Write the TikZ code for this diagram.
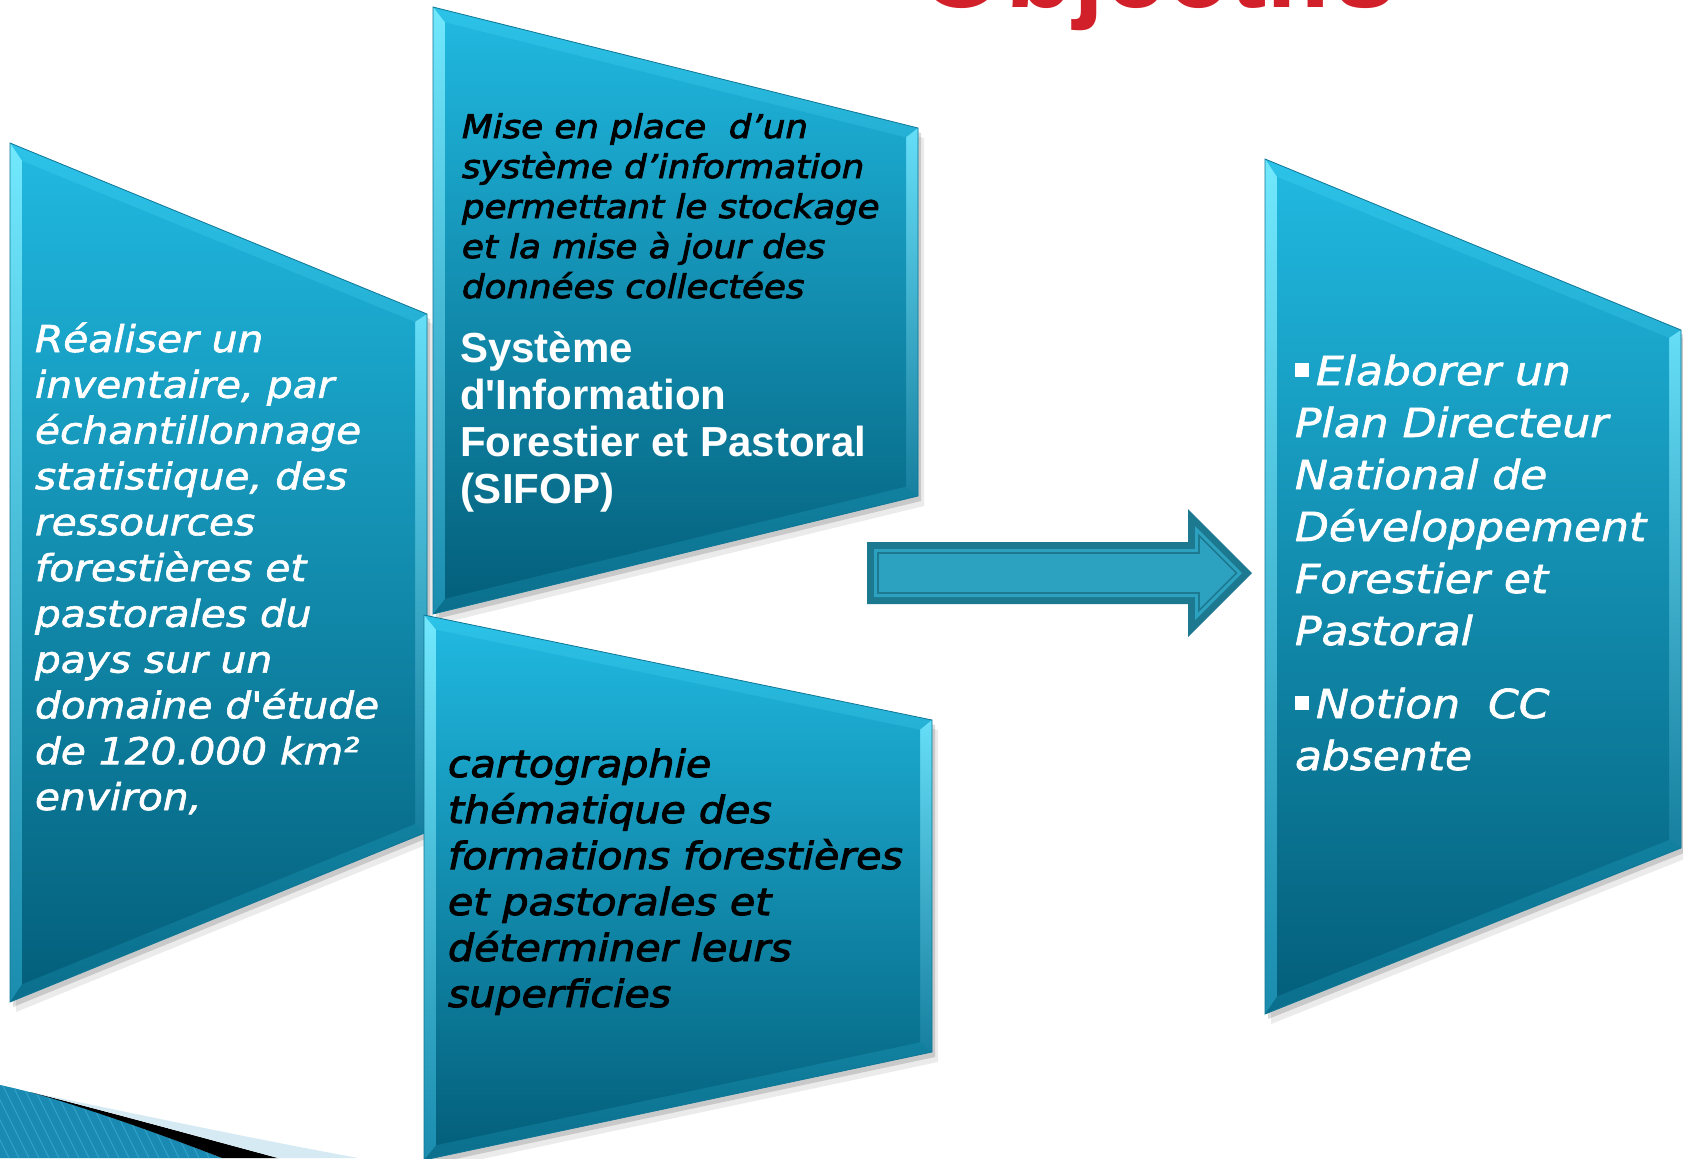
\documentclass[tikz,border=0pt]{standalone}
\usepackage{fontspec}
\newfontfamily\vfont{DejaVu Sans}[FakeStretch=1.1,FakeBold=1.6]
\newfontfamily\vfontb{DejaVu Sans}[FakeStretch=1.1,FakeBold=2.6]
\newfontfamily\afont{Liberation Sans}
\definecolor{faceTop}{HTML}{20B7DF}
\definecolor{faceBot}{HTML}{04607C}
\definecolor{bevTop}{HTML}{2CC2E8}
\definecolor{bevBot}{HTML}{0A6F8C}
\definecolor{leftTop}{HTML}{72E8FD}
\definecolor{leftBot}{HTML}{1A8CAE}
\definecolor{rightTop}{HTML}{66DEF8}
\definecolor{rightBot}{HTML}{177F9F}
\definecolor{edgeC}{HTML}{0E7696}
\definecolor{arrDark}{HTML}{1D7990}
\definecolor{arrLight}{HTML}{2CA2C0}
\definecolor{titleRed}{HTML}{D2202A}
\definecolor{swBlue}{HTML}{1A8AB2}
\definecolor{swStripe}{HTML}{2C9FC6}
\definecolor{swLight}{HTML}{D5EAF2}
\def\bbw{12}
\newcommand\bevelbox[6]{%
 \pgfmathsetmacro\bbmT{(#4-#3)/(#2-#1)}%
 \pgfmathsetmacro\bbkT{\bbw*sqrt(1+\bbmT*\bbmT)}%
 \pgfmathsetmacro\bbmB{(#5-#6)/(#2-#1)}%
 \pgfmathsetmacro\bbkB{\bbw*sqrt(1+\bbmB*\bbmB)}%
 \pgfmathsetmacro\bbxa{#1+\bbw}%
 \pgfmathsetmacro\bbxb{#2-\bbw}%
 \pgfmathsetmacro\bbya{#3+\bbmT*\bbw+\bbkT}%
 \pgfmathsetmacro\bbyb{#4-\bbmT*\bbw+\bbkT}%
 \pgfmathsetmacro\bbyc{#5-\bbmB*\bbw-\bbkB}%
 \pgfmathsetmacro\bbyd{#6+\bbmB*\bbw-\bbkB}%
 \begin{scope}[shift={(3,5)}]
  \fill[black,opacity=.14] (#1,#3) -- (#2,#4) -- (#2,#5) -- (#1,#6) -- cycle;
 \end{scope}
 \begin{scope}[shift={(6,10)}]
  \fill[black,opacity=.08] (#1,#3) -- (#2,#4) -- (#2,#5) -- (#1,#6) -- cycle;
 \end{scope}
 \shade[top color=bevTop,bottom color=bevBot] (#1,#3) -- (#2,#4) -- (#2,#5) -- (#1,#6) -- cycle;
 \shade[top color=leftTop,bottom color=leftBot] (#1,#3) -- (\bbxa,\bbya) -- (\bbxa,\bbyd) -- (#1,#6) -- cycle;
 \shade[top color=rightTop,bottom color=rightBot] (#2,#4) -- (\bbxb,\bbyb) -- (\bbxb,\bbyc) -- (#2,#5) -- cycle;
 \shade[top color=faceTop,bottom color=faceBot] (\bbxa,\bbya) -- (\bbxb,\bbyb) -- (\bbxb,\bbyc) -- (\bbxa,\bbyd) -- cycle;
 \draw[edgeC,line width=0.4pt] (#1,#3) -- (#2,#4) -- (#2,#5) -- (#1,#6) -- cycle;
}
\newcommand\blk[1]{\begin{minipage}[t]{420pt}\raggedright\lineskiplimit=-60pt #1\end{minipage}}
\newcommand\bul{\rule[4pt]{7pt}{7pt}\hspace{3.5pt}}
\begin{document}
\begin{tikzpicture}[x=0.5pt,y=-0.5pt,
  txt/.style={anchor=base west,inner sep=0pt,outer sep=0pt},
  whiteit/.style={txt,text=white},
  blackit/.style={txt,text=black}]
\clip (0,0) rectangle (1683,1158);
\fill[white] (0,0) rectangle (1683,1158);
% title (cut at top)
\node[txt,text=titleRed,font=\afont\bfseries\fontsize{56}{60}\selectfont] (title) at (918,7) {Objectifs};
% shapes
\bevelbox{10}{427}{143}{314}{832}{1002}
\bevelbox{433}{918}{7}{128}{496}{614}
\bevelbox{424}{932}{615}{720}{1052}{1160}
\bevelbox{1265}{1681}{159}{330}{848}{1014}
% arrow
\fill[arrDark] (867,542) -- (1188,542) -- (1188,509) -- (1252,573) -- (1188,637) -- (1188,604) -- (867,604) -- cycle;
\fill[arrLight] (874,549) -- (1195,549) -- (1195,526) -- (1242,573) -- (1195,620) -- (1195,597) -- (874,597) -- cycle;
\draw[arrDark,line width=0.8pt] (878,553) -- (1199,553) -- (1199,535.6) -- (1236.4,573) -- (1199,610.4) -- (1199,593) -- (878,593) -- cycle;
% bottom-left swoosh
\begin{scope}
 \clip (0,1085) .. controls (70,1100) and (150,1130) .. (222,1158) -- (0,1158) -- cycle;
 \fill[swBlue] (0,1080) rectangle (240,1160);
 \foreach \i in {0,10,...,320} \draw[swStripe,line width=0.6pt] (\i-40,1080) -- (\i,1160);
\end{scope}
\fill[black] (30,1092) .. controls (120,1115) and (200,1137) .. (278,1158) -- (222,1158) .. controls (150,1130) and (80,1106) .. (30,1092) -- cycle;
\fill[swLight] (40,1094) .. controls (150,1117) and (260,1140) .. (358,1158) -- (278,1158) .. controls (200,1137) and (120,1115) .. (40,1094) -- cycle;
% texts
\node[whiteit,font=\vfont\itshape\fontsize{18.5}{22.9}\selectfont] (inv) at (35,352) {\blk{%
R\'ealiser un\\
inventaire, par\\
\'echantillonnage\\
statistique, des\\
ressources\\
foresti\`eres et\\
pastorales du\\
pays sur un\\
domaine d\textquotesingle\'etude\\
de 120.000 km²\\
environ,}};
\node[blackit,font=\vfontb\itshape\fontsize{16.2}{20}\selectfont] (sys) at (462,138) {\blk{%
Mise en place\ \ d’un\\
syst\`eme d’information\\
permettant le stockage\\
et la mise \`a jour des\\
donn\'ees collect\'ees}};
\node[txt,text=white,font=\afont\bfseries\fontsize{21}{23.5}\selectfont] (sifop) at (460,362) {\blk{%
Syst\`eme\\
d\textquotesingle Information\\
Forestier et Pastoral\\
(SIFOP)}};
\node[blackit,font=\vfontb\itshape\fontsize{18.7}{23}\selectfont] (carto) at (448,777) {\blk{%
cartographie\\
th\'ematique des\\
formations foresti\`eres\\
et pastorales et\\
d\'eterminer leurs\\
superficies}};
\node[whiteit,font=\vfont\itshape\fontsize{20}{26}\selectfont] (plan) at (1295,385) {\blk{%
\bul Elaborer un\\
Plan Directeur\\
National de\\
D\'eveloppement\\
Forestier et\\
Pastoral\\[10.5pt]
\bul Notion\ \ CC\\
absente}};
\end{tikzpicture}
\end{document}
